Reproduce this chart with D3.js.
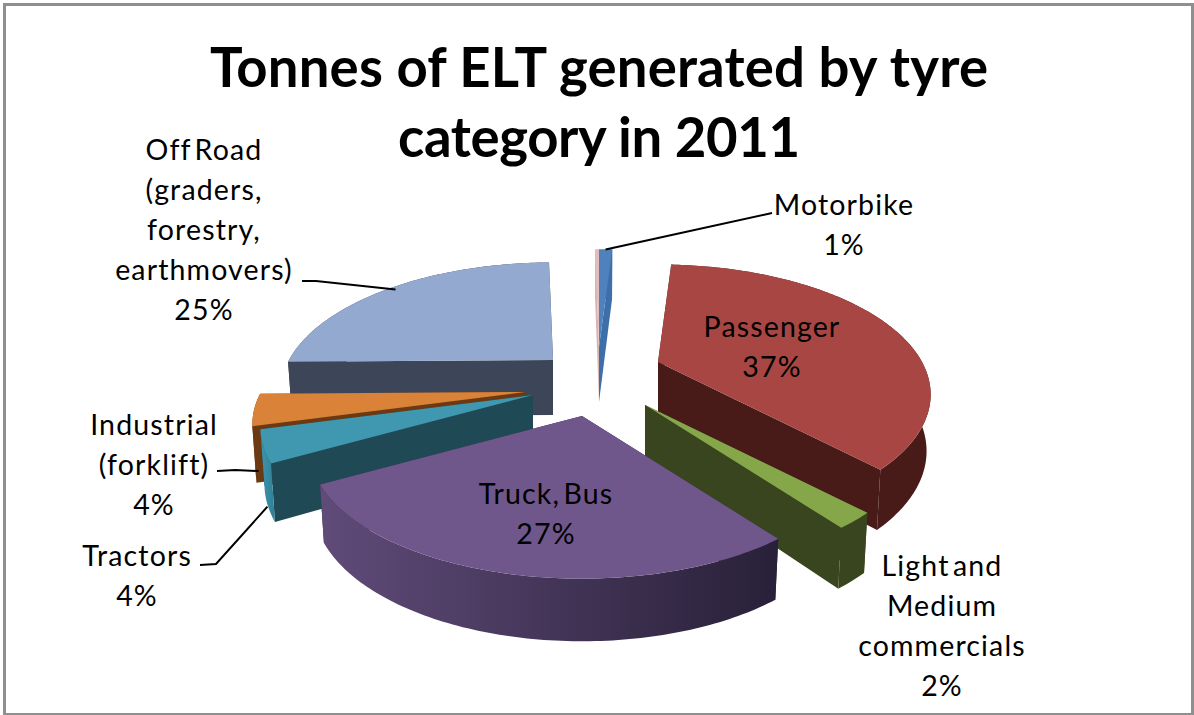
<!DOCTYPE html>
<html>
<head>
<meta charset="utf-8">
<title>Tonnes of ELT generated by tyre category in 2011</title>
<script src="https://cdn.jsdelivr.net/npm/d3@7/dist/d3.min.js"></script>
<style>
  html, body { margin: 0; padding: 0; background: #fff; }
  svg { display: block; }
  text { font-family: Lato, "Open Sans", sans-serif; fill: #000; }
</style>
</head>
<body>
<svg id="chart" width="1194" height="715"></svg>
<script>
// Share of end-of-life tyres per category, percent
const categories = ["Motorbike", "Passenger", "Light and Medium commercials", "Truck, Bus",
                    "Tractors", "Industrial (forklift)", "Off Road (graders, forestry, earthmovers)", "Other"];
const values = [1, 37, 2, 27, 4, 4, 25, 0.3];

// Slice colours: top face, flat cut faces, outer wall from left to right
const topColors = ["#4f81bd", "#a84644", "#86a64a", "#6f578b", "#3f98b0", "#d98238", "#93a9d0", "#e3bdbc"];
const cutColors = ["#3d6fa8", "#481b18", "#39451f", "#2f2540", "#1f4a55", "#6b3a12", "#3c4658", "#d8b4b3"];
const wallStart = ["#3d6fa8", "#481b18", "#39451f", "#604b79", "#3d96ae", "#6b3a12", "#3c4658", "#d8b4b3"];
const wallEnd   = ["#3d6fa8", "#481b18", "#39451f", "#282038", "#2f7f95", "#6b3a12", "#3c4658", "#d8b4b3"];

// Where each exploded slice has its tip on the page
const tips = [[599, 347], [658, 362], [645, 405], [582, 416], [533, 395], [525, 392], [553, 360], [599, 347]];

// Back-to-front painting order
const paintOrder = [7, 0, 6, 1, 5, 4, 2, 3];

const W = 1194, H = 715;
const radiusX = 264, radiusY = 122, perspective = 0.25, depth = 55, taper = 0.985;

const svg = d3.select("#chart");
const defs = svg.append("defs");

svg.append("rect").attr("x", 4.5).attr("y", 4.5)
  .attr("width", W - 6).attr("height", H - 5)
  .attr("fill", "#fff").attr("stroke", "#8f8f8f").attr("stroke-width", 3);

const arcs = d3.pie().sort(null)(values);

// Maps a pie angle and radial fraction to the page, level = 0 on the top face, 1 on the base
function project(i, angle, frac, level) {
  const u = Math.sin(angle) * frac, v = -Math.cos(angle) * frac;
  const s = 1 / (1 - perspective * v);
  const [tx, ty] = tips[i];
  const sx = radiusX * u * s, sy = radiusY * v * s;
  const t = 1 - (1 - taper) * level;
  return [tx + sx * t, ty + sy + level * depth * Math.pow(s, 0.45)];
}

const line = d3.line();
function arcPoints(i, level) {
  const a = arcs[i];
  const n = Math.max(2, Math.ceil((a.endAngle - a.startAngle) * 60));
  return d3.range(n + 1).map(k => project(i, a.startAngle + (a.endAngle - a.startAngle) * k / n, 1, level));
}

paintOrder.forEach(i => {
  const g = svg.append("g").attr("class", "slice");
  const top = arcPoints(i, 0), base = arcPoints(i, 1);
  const tip0 = project(i, 0, 0, 0), tip1 = project(i, 0, 0, 1);

  // Outer wall, shaded across its width
  const xs = top.concat(base).map(p => p[0]);
  const gid = "wall" + i;
  const grad = defs.append("linearGradient").attr("id", gid)
    .attr("gradientUnits", "userSpaceOnUse")
    .attr("x1", d3.min(xs)).attr("x2", d3.max(xs)).attr("y1", 0).attr("y2", 0);
  grad.append("stop").attr("offset", 0).attr("stop-color", wallStart[i]);
  grad.append("stop").attr("offset", 1).attr("stop-color", wallEnd[i]);

  // Two flat cut faces from the tip out to the rim
  [[top[0], base[0]], [top[top.length - 1], base[base.length - 1]]].forEach(([pt, pb]) => {
    g.append("path").attr("d", line([tip0, pt, pb, tip1]) + "Z").attr("fill", cutColors[i]);
  });

  g.append("path").attr("d", line(top.concat(base.slice().reverse())) + "Z").attr("fill", `url(#${gid})`);
  g.append("path").attr("d", line([tip0].concat(top)) + "Z").attr("fill", topColors[i]);
});

// Data labels, one array of lines per category
const labelLines = [
  ["Motorbike"], ["Passenger"], ["Light and", "Medium", "commercials"], ["Truck, Bus"],
  ["Tractors"], ["Industrial", "(forklift)"], ["Off Road", "(graders,", "forestry,", "earthmovers)"]
];
const labelCentres = [[844, 215], [772, 337], [942, 576], [546, 504], [137, 566], [154, 435], [204, 160]];
const lineGap = 40;
const labelSize = 28.5;

labelLines.forEach((lines, i) => {
  const [cx, y0] = labelCentres[i];
  const pct = Math.round(values[i] / d3.sum(values) * 100) + "%";
  lines.concat([pct]).forEach((t, k) => {
    svg.append("text").attr("x", cx).attr("y", y0 + k * lineGap)
      .attr("text-anchor", "middle").attr("font-size", labelSize)
      .attr("letter-spacing", 1.15).attr("word-spacing", -5).text(t);
  });
});

// Leader lines: label elbow to a point on the slice
const leaders = [
  { slice: 0, frac: 1, level: 0, start: [772, 213], elbow: null },
  { slice: 6, frac: 0.97, level: 0, start: [302, 281], elbow: [316, 281] },
  { slice: 5, frac: 1, level: 1.1, start: [217, 471], elbow: [235, 470] },
  { slice: 4, frac: 1, level: 1.05, start: [200, 565], elbow: [216, 564] }
];
leaders.forEach(d => {
  const a = arcs[d.slice];
  const end = project(d.slice, (a.startAngle + a.endAngle) / 2, d.frac, d.level);
  const pts = d.elbow ? [d.start, d.elbow, end] : [d.start, end];
  svg.append("path").attr("d", line(pts)).attr("fill", "none")
    .attr("stroke", "#000").attr("stroke-width", 2);
});

// Two-line chart title
const titleLines = ["Tonnes of ELT generated by tyre", "category in 2011"];
const titleY = [87, 157];
const titleWidths = [778, 402];
titleLines.forEach((t, k) => {
  svg.append("text").attr("x", 599).attr("y", titleY[k])
    .attr("text-anchor", "middle").attr("font-size", 54.5).attr("font-weight", 700)
    .attr("textLength", titleWidths[k]).text(t);
});
</script>
</body>
</html>
